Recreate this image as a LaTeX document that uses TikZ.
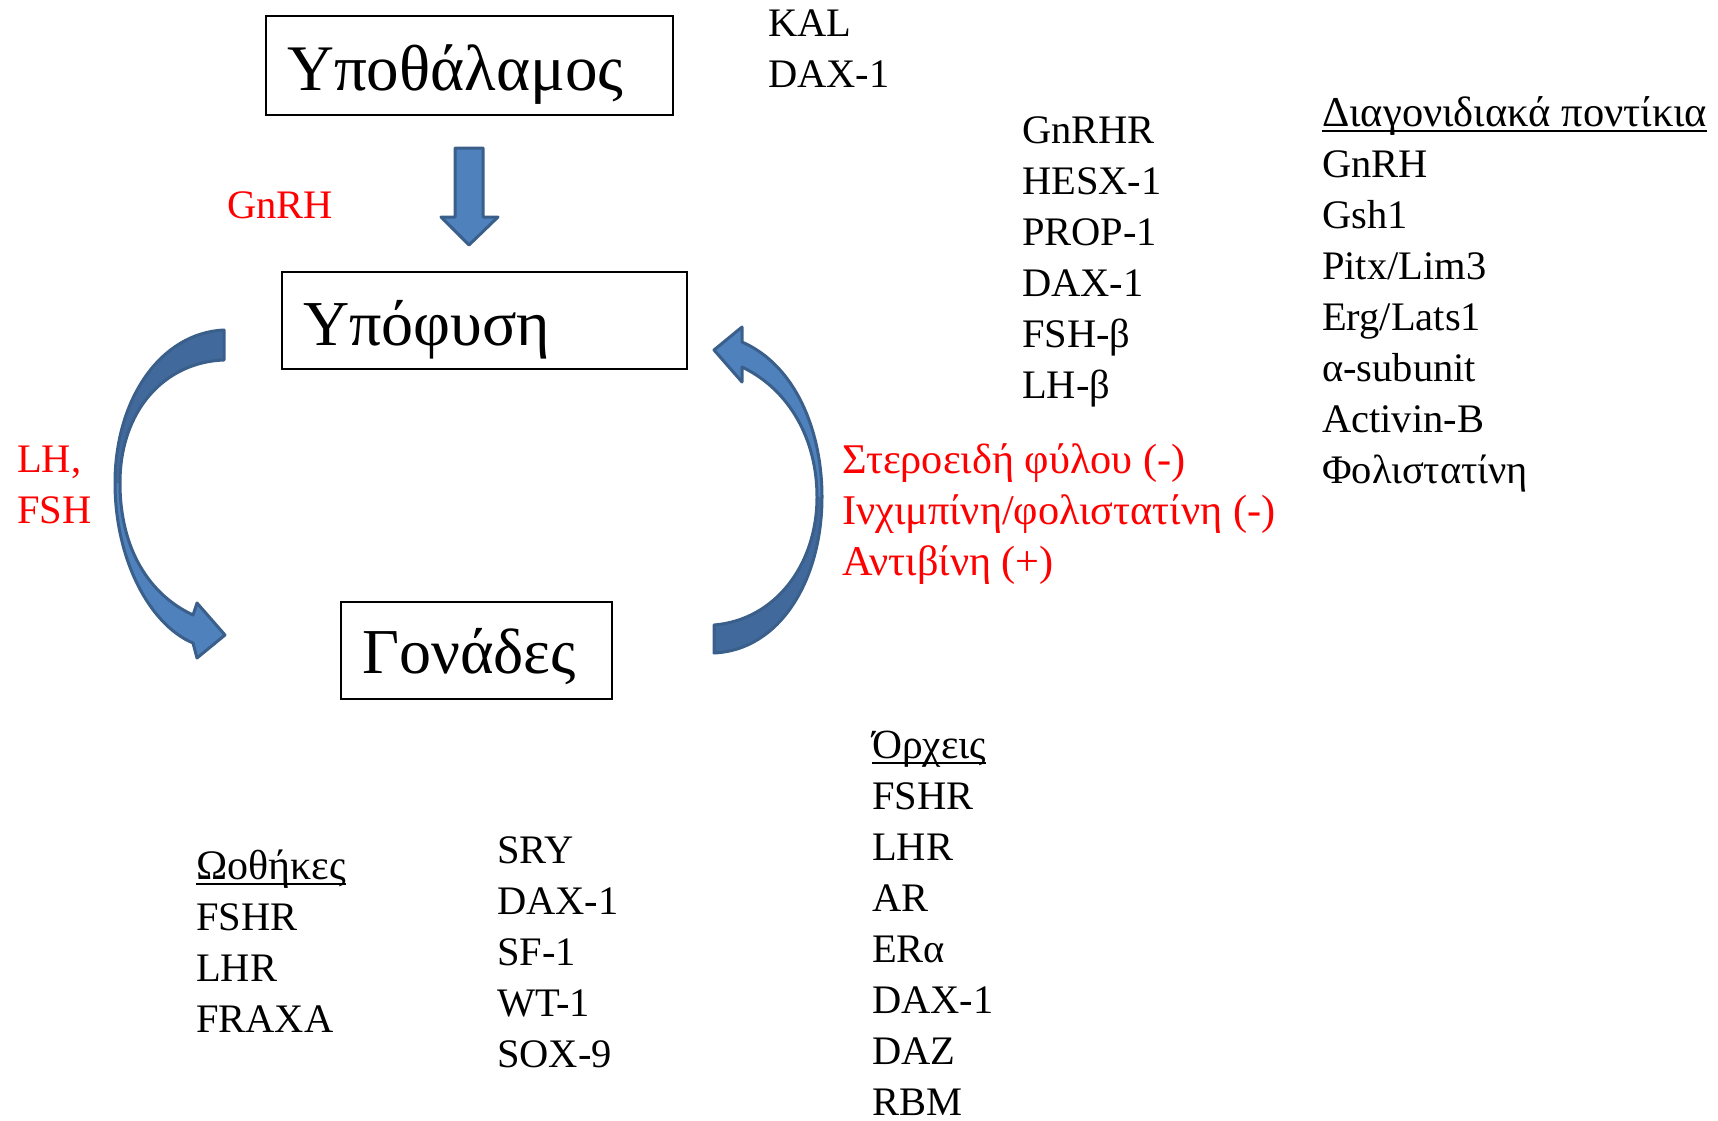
\documentclass[tikz,border=0pt]{standalone}
\usepackage{fontspec}
\setmainfont{Liberation Serif}
\definecolor{arrfill}{HTML}{4F81BD}
\definecolor{arrdark}{HTML}{41699C}
\definecolor{arredge}{HTML}{3A5F8B}
\newcommand\ulx[1]{\setbox0\hbox{#1}\rlap{\rule[-6pt]{\wd0}{2.5pt}}#1}
\begin{document}
\begin{tikzpicture}[x=1pt,y=-1pt,
  box/.style={draw, line width=2.3pt, inner sep=0pt},
  boxlabel/.style={anchor=base west, inner sep=0pt},
  lst/.style={align=left, anchor=base west, inner sep=0pt, font=\fontsize{40.5}{51}\selectfont},
  redlist/.style={lst, text=red},
  arrbody/.style={fill=arrfill},
  arrback/.style={fill=arrdark},
  arrline/.style={draw=arredge, line width=3pt, line join=round}
]
\useasboundingbox (0,0) rectangle (1718,1121);

% boxes
\node[box, minimum width=407pt, minimum height=99pt] (hyp) at (469.5,65.5) {};
\node[box, minimum width=405pt, minimum height=97pt] (pit) at (484.5,320.5) {};
\node[box, minimum width=271pt, minimum height=97pt] (gon) at (476.5,650.5) {};
\node[boxlabel, font=\fontsize{65}{80}\selectfont] (hyplab) at (287,91) {Υποθάλαμος};
\node[boxlabel, font=\fontsize{64}{80}\selectfont] (pitlab) at (303,345) {Υπόφυση};
\node[boxlabel, font=\fontsize{64}{80}\selectfont] (gonlab) at (362,673) {Γονάδες};

% down block arrow
\path[arrbody, arrline] (455,148) -- (483,148) -- (483,217) -- (498,217) -- (469,245) -- (441,217) -- (455,217) -- cycle;

% left curved arrow
\path[arrbody] (224,330) .. controls (160,333) and (115,400) .. (115,483) .. controls (115,560) and (150,625) .. (193,643) -- (197,658) -- (225,635) -- (197,603) -- (193,615) .. controls (150,595) and (120,550) .. (120,483) .. controls (120,410) and (165,362) .. (224,360) -- cycle;
\path[arrback] (224,330) .. controls (160,333) and (115,400) .. (115,483) -- (120,483) .. controls (120,410) and (165,362) .. (224,360) -- cycle;
\path[arrline] (224,330) .. controls (160,333) and (115,400) .. (115,483) .. controls (115,560) and (150,625) .. (193,643) -- (197,658) -- (225,635) -- (197,603) -- (193,615) .. controls (150,595) and (120,550) .. (120,483) .. controls (120,410) and (165,362) .. (224,360) -- cycle;

% right curved arrow
\path[arrbody] (714,350) -- (742,327) -- (742,342) .. controls (795,365) and (822,430) .. (822,497) .. controls (822,580) and (780,650) .. (714,653) -- (714,625) .. controls (775,620) and (817,565) .. (817,497) .. controls (817,440) and (790,390) .. (742,367) -- (742,382) -- cycle;
\path[arrback] (822,497) .. controls (822,580) and (780,650) .. (714,653) -- (714,625) .. controls (775,620) and (817,565) .. (817,497) -- cycle;
\path[arrline] (714,350) -- (742,327) -- (742,342) .. controls (795,365) and (822,430) .. (822,497) .. controls (822,580) and (780,650) .. (714,653) -- (714,625) .. controls (775,620) and (817,565) .. (817,497) .. controls (817,440) and (790,390) .. (742,367) -- (742,382) -- cycle;

% text lists (anchored at the baseline of their last line)
\node[lst] (kal) at (768,88) {KAL\\DAX-1};
\node[lst] (gnrhr) at (1022,398) {GnRHR\\HESX-1\\PROP-1\\DAX-1\\FSH-β\\LH-β};
\node[lst] (mice) at (1322,483) {{\fontsize{42.5}{51}\selectfont\ulx{Διαγονιδιακά ποντίκια}}\\GnRH\\Gsh1\\Pitx/Lim3\\Erg/Lats1\\α-subunit\\Activin-B\\Φολιστατίνη};
\node[redlist, font=\fontsize{42.3}{51}\selectfont] (fb) at (842,575) {Στεροειδή φύλου (-)\\Ινχιμπίνη/φολιστατίνη (-)\\Αντιβίνη (+)};
\node[redlist] (gnrh) at (227,218) {GnRH};
\node[redlist] (lhfsh) at (17,523) {LH,\\FSH};
\node[lst] (ov) at (196,1032) {{\fontsize{42}{51}\selectfont\ulx{Ωοθήκες}}\\FSHR\\LHR\\FRAXA};
\node[lst] (sry) at (497,1067) {SRY\\DAX-1\\SF-1\\WT-1\\SOX-9};
\node[lst] (test) at (872,1115) {{\fontsize{41.5}{51}\selectfont\ulx{Όρχεις}}\\FSHR\\LHR\\AR\\ERα\\DAX-1\\DAZ\\RBM};
\end{tikzpicture}
\end{document}
